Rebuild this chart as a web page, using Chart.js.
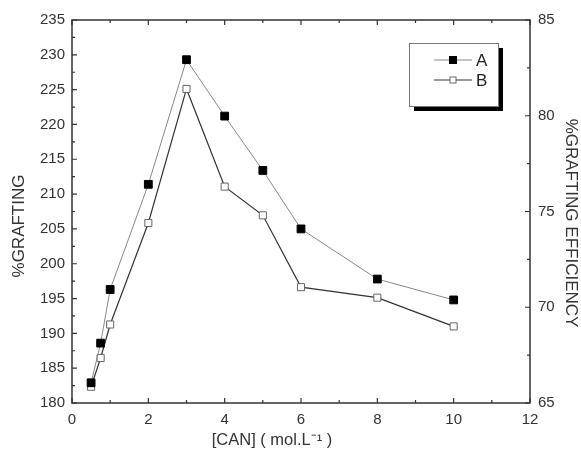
<!DOCTYPE html>
<html><head><meta charset="utf-8">
<script src="https://cdn.jsdelivr.net/npm/chart.js@4"></script>
<style>html,body{margin:0;padding:0;background:#fff}#wrap{width:581px;height:454px}</style>
</head><body><div id="wrap"><canvas id="c" width="581" height="454"></canvas></div>
<script>
const canConc = [0.5, 0.75, 1, 2, 3, 4, 5, 6, 8, 10];
const graftingA = [182.9, 188.6, 196.3, 211.4, 229.3, 221.2, 213.4, 205.0, 197.8, 194.8];
const efficiencyB = [65.85, 67.35, 69.1, 74.4, 81.4, 76.3, 74.8, 71.05, 70.5, 69.0];
const seriesLabels = ['A', 'B'];
const xTicks = [0, 2, 4, 6, 8, 10, 12];
const yLeftTicks = [180, 185, 190, 195, 200, 205, 210, 215, 220, 225, 230, 235];
const yRightTicks = [65, 70, 75, 80, 85];

const FONT = 'Liberation Sans, Arial, sans-serif';
const AX = '#333';

const deco = {
  id: 'deco',
  afterDraw(chart) {
    const ctx = chart.ctx, a = chart.chartArea;
    const x = chart.scales.x, y = chart.scales.y, y2 = chart.scales.y2;
    ctx.save();
    ctx.strokeStyle = AX; ctx.lineWidth = 1.5;
    ctx.strokeRect(a.left, a.top, a.right - a.left, a.bottom - a.top);
    ctx.lineWidth = 1.2;
    ctx.beginPath();
    for (let v = 0; v <= 12; v += 1) {
      const px = x.getPixelForValue(v), L = v % 2 === 0 ? 5 : 3;
      ctx.moveTo(px, a.bottom); ctx.lineTo(px, a.bottom - L);
      ctx.moveTo(px, a.top); ctx.lineTo(px, a.top + L);
    }
    for (let v = 180; v <= 235; v += 2.5) {
      const py = y.getPixelForValue(v), L = v % 5 === 0 ? 5 : 3;
      ctx.moveTo(a.left, py); ctx.lineTo(a.left + L, py);
    }
    for (let v = 65; v <= 85; v += 2.5) {
      const py = y2.getPixelForValue(v), L = v % 5 === 0 ? 5 : 3;
      ctx.moveTo(a.right, py); ctx.lineTo(a.right - L, py);
    }
    ctx.stroke();

    // titles
    ctx.fillStyle = '#333';
    ctx.font = '17px ' + FONT;
    ctx.textAlign = 'center'; ctx.textBaseline = 'middle';
    ctx.save(); ctx.translate(19, 226); ctx.rotate(-Math.PI / 2);
    ctx.fillText('%GRAFTING', 0, 0); ctx.restore();
    ctx.save(); ctx.translate(571, 223); ctx.rotate(Math.PI / 2);
    ctx.fillText('%GRAFTING EFFICIENCY', 0, 0); ctx.restore();
    ctx.font = '16.5px ' + FONT;
    ctx.fillText('[CAN] ( mol.L\u207B\u00B9 )', 272, 440);

    // legend
    const lx = 409, ly = 43, lw = 89, lh = 63;
    ctx.fillStyle = '#000';
    ctx.fillRect(lx + 5, ly + 5, lw, lh);
    ctx.fillStyle = '#fff';
    ctx.fillRect(lx, ly, lw, lh);
    ctx.strokeStyle = '#777'; ctx.lineWidth = 1;
    ctx.strokeRect(lx + 0.5, ly + 0.5, lw, lh);
    const ds = chart.data.datasets;
    [60, 80].forEach((yy, i) => {
      const d = ds[i];
      ctx.strokeStyle = d.borderColor; ctx.lineWidth = 1.2;
      ctx.beginPath(); ctx.moveTo(434, yy); ctx.lineTo(472, yy); ctx.stroke();
      const s = i === 0 ? 7 : 6;
      ctx.fillStyle = d.pointBackgroundColor;
      ctx.fillRect(453 - s / 2, yy - s / 2, s, s);
      ctx.strokeStyle = d.pointBorderColor; ctx.lineWidth = 1;
      ctx.strokeRect(453 - s / 2, yy - s / 2, s, s);
      ctx.fillStyle = '#222'; ctx.font = '17px ' + FONT;
      ctx.textAlign = 'left';
      ctx.fillText(d.label, 476, yy + 1);
    });
    ctx.restore();
  }
};

new Chart(document.getElementById('c'), {
  type: 'line',
  data: {
    datasets: [
      {
        label: seriesLabels[0],
        data: canConc.map((c, i) => ({ x: c, y: graftingA[i] })),
        yAxisID: 'y',
        borderColor: '#888', borderWidth: 1,
        pointStyle: 'rect', pointRadius: 5.5,
        pointBackgroundColor: '#000', pointBorderColor: '#000', pointBorderWidth: 1
      },
      {
        label: seriesLabels[1],
        data: canConc.map((c, i) => ({ x: c, y: efficiencyB[i] })),
        yAxisID: 'y2',
        borderColor: '#333', borderWidth: 1.2,
        pointStyle: 'rect', pointRadius: 5,
        pointBackgroundColor: '#fff', pointBorderColor: '#666', pointBorderWidth: 1
      }
    ]
  },
  plugins: [deco],
  options: {
    responsive: false, animation: false,
    layout: { padding: { top: 20, left: 0, right: 0, bottom: 0 } },
    plugins: { legend: { display: false }, tooltip: { enabled: false } },
    elements: { line: { tension: 0 } },
    scales: {
      x: {
        type: 'linear', min: 0, max: 12,
        afterBuildTicks: s => { s.ticks = xTicks.map(v => ({ value: v })); },
        afterFit: s => { s.height = 51; },
        grid: { display: false, drawTicks: false },
        border: { display: false },
        ticks: { padding: 8, color: '#333', font: { family: FONT, size: 15 } }
      },
      y: {
        type: 'linear', position: 'left', min: 180, max: 235,
        afterBuildTicks: s => { s.ticks = yLeftTicks.map(v => ({ value: v })); },
        afterFit: s => { s.width = 72; },
        grid: { display: false, drawTicks: false },
        border: { display: false },
        ticks: { padding: 7, color: '#333', font: { family: FONT, size: 15 } }
      },
      y2: {
        type: 'linear', position: 'right', min: 65, max: 85,
        afterBuildTicks: s => { s.ticks = yRightTicks.map(v => ({ value: v })); },
        afterFit: s => { s.width = 51; },
        grid: { display: false, drawTicks: false },
        border: { display: false },
        ticks: { padding: 8, color: '#333', font: { family: FONT, size: 15 } }
      }
    }
  }
});
</script>
</body></html>
